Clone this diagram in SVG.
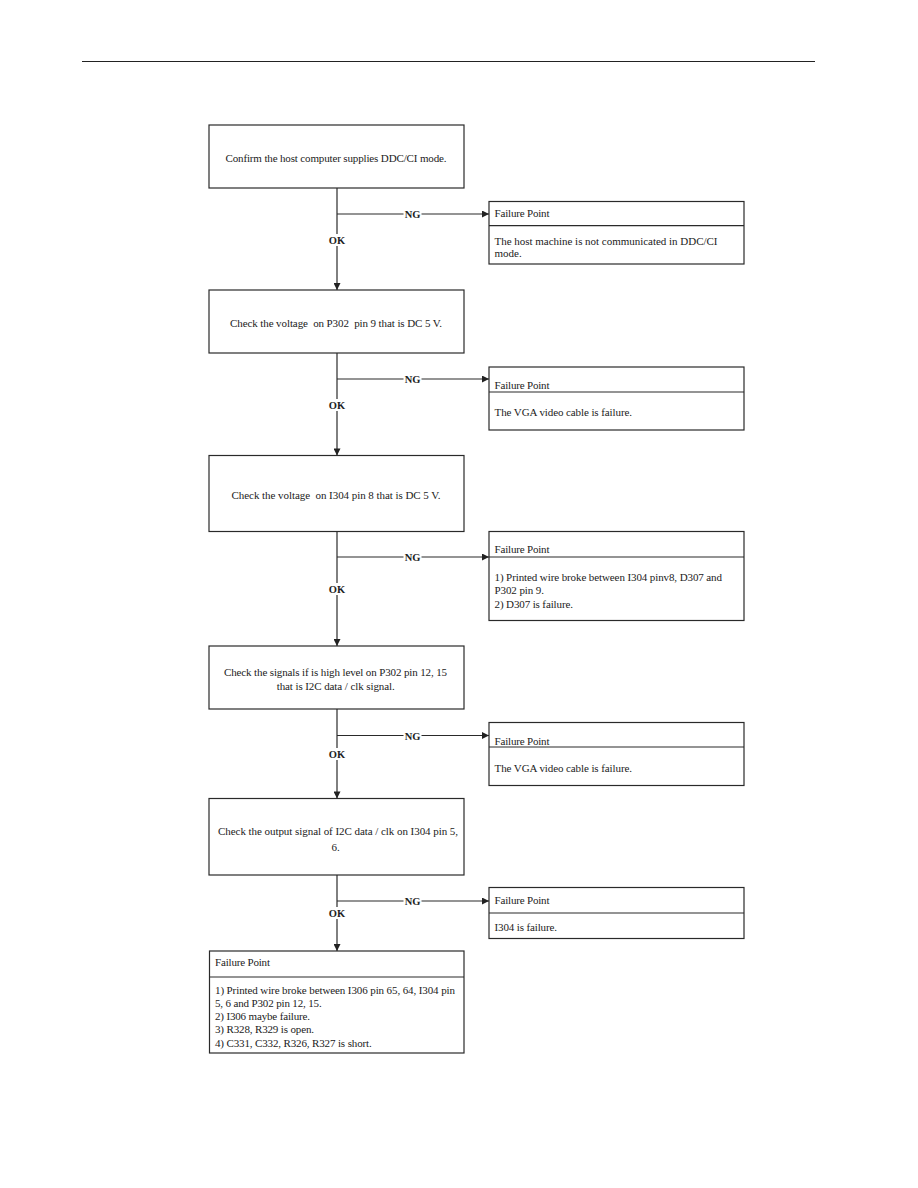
<svg xmlns="http://www.w3.org/2000/svg" width="918" height="1188" viewBox="0 0 918 1188">
<style>
.box{fill:#fff;stroke:#2a2a2a;stroke-width:1.2}
.div{stroke:#2a2a2a;stroke-width:1.2}
.t{font-family:"Liberation Serif","Times New Roman",serif;font-size:11px;fill:#222;white-space:pre}
.c{text-anchor:middle}
.lbl{font-family:"Liberation Serif","Times New Roman",serif;font-size:10.5px;font-weight:bold;fill:#222;text-anchor:middle}
.ln{stroke:#2a2a2a;stroke-width:1.2;fill:none}
.bg{fill:#fff}
</style>
<defs>
<marker id="ah" viewBox="0 0 10 10" refX="10" refY="5" markerWidth="8" markerHeight="7" markerUnits="userSpaceOnUse" orient="auto">
<path d="M0,0 L10,5 L0,10 z" fill="#222"/>
</marker>
</defs>
<rect width="918" height="1188" fill="#fff"/>
<line x1="82" y1="61.5" x2="815" y2="61.5" stroke="#222" stroke-width="1.2"/>

<g id="connectors">
<line class="ln" x1="337" y1="188" x2="337" y2="290" marker-end="url(#ah)"/>
<line class="ln" x1="337" y1="214" x2="489" y2="214" marker-end="url(#ah)"/>
<line class="ln" x1="337" y1="353" x2="337" y2="455.5" marker-end="url(#ah)"/>
<line class="ln" x1="337" y1="379" x2="489" y2="379" marker-end="url(#ah)"/>
<line class="ln" x1="337" y1="531.5" x2="337" y2="646" marker-end="url(#ah)"/>
<line class="ln" x1="337" y1="557" x2="489" y2="557" marker-end="url(#ah)"/>
<line class="ln" x1="337" y1="709" x2="337" y2="798.5" marker-end="url(#ah)"/>
<line class="ln" x1="337" y1="735.5" x2="489" y2="735.5" marker-end="url(#ah)"/>
<line class="ln" x1="337" y1="875" x2="337" y2="951" marker-end="url(#ah)"/>
<line class="ln" x1="337" y1="901" x2="489" y2="901" marker-end="url(#ah)"/>
<rect class="bg" x="403.5" y="208" width="18" height="12"/>
<text class="lbl" x="412.5" y="218">NG</text>
<rect class="bg" x="328" y="234" width="18" height="12"/>
<text class="lbl" x="337" y="244">OK</text>
<rect class="bg" x="403.5" y="373" width="18" height="12"/>
<text class="lbl" x="412.5" y="383">NG</text>
<rect class="bg" x="328" y="399" width="18" height="12"/>
<text class="lbl" x="337" y="409">OK</text>
<rect class="bg" x="403.5" y="551" width="18" height="12"/>
<text class="lbl" x="412.5" y="561">NG</text>
<rect class="bg" x="328" y="583" width="18" height="12"/>
<text class="lbl" x="337" y="593">OK</text>
<rect class="bg" x="403.5" y="729.5" width="18" height="12"/>
<text class="lbl" x="412.5" y="739.5">NG</text>
<rect class="bg" x="328" y="748" width="18" height="12"/>
<text class="lbl" x="337" y="758">OK</text>
<rect class="bg" x="403.5" y="895" width="18" height="12"/>
<text class="lbl" x="412.5" y="905">NG</text>
<rect class="bg" x="328" y="907" width="18" height="12"/>
<text class="lbl" x="337" y="917">OK</text>
</g>

<g id="step1">
<rect class="box" x="209" y="125" width="255" height="63"/>
<text class="t c" x="336" y="161.5" textLength="221">Confirm the host computer supplies DDC/CI mode.</text>
</g>
<g id="fail1">
<rect class="box" x="489" y="201.5" width="255" height="62.5"/>
<line class="div" x1="489" y1="225.7" x2="744" y2="225.7"/>
<text class="t" x="494.5" y="216.5" textLength="55">Failure Point</text>
<text class="t" x="494.5" y="244.5" textLength="223">The host machine is not communicated in DDC/CI</text>
<text class="t" x="494.5" y="256.5">mode.</text>
</g>

<g id="step2">
<rect class="box" x="209" y="290" width="255" height="63"/>
<text class="t c" x="336" y="327" textLength="212">Check the voltage  on P302  pin 9 that is DC 5 V.</text>
</g>
<g id="fail2">
<rect class="box" x="489" y="367" width="255" height="63"/>
<line class="div" x1="489" y1="392" x2="744" y2="392"/>
<text class="t" x="494.5" y="389" textLength="55">Failure Point</text>
<text class="t" x="494.5" y="416" textLength="137.5">The VGA video cable is failure.</text>
</g>

<g id="step3">
<rect class="box" x="209" y="455.5" width="255" height="76"/>
<text class="t c" x="336" y="499" textLength="209">Check the voltage  on I304 pin 8 that is DC 5 V.</text>
</g>
<g id="fail3">
<rect class="box" x="489" y="531.5" width="255" height="89"/>
<line class="div" x1="489" y1="557" x2="744" y2="557"/>
<text class="t" x="494.5" y="553" textLength="55">Failure Point</text>
<text class="t" x="494.5" y="581" textLength="227.5">1) Printed wire broke between I304 pinv8, D307 and</text>
<text class="t" x="494.5" y="594" textLength="49.5">P302 pin 9.</text>
<text class="t" x="494.5" y="608" textLength="78.5">2) D307 is failure.</text>
</g>

<g id="step4">
<rect class="box" x="209" y="646" width="255" height="63"/>
<text class="t c" x="335.5" y="675.5" textLength="223">Check the signals if is high level on P302 pin 12, 15</text>
<text class="t c" x="335.7" y="689.5" textLength="118">that is I2C data / clk signal.</text>
</g>
<g id="fail4">
<rect class="box" x="489" y="722.5" width="255" height="63"/>
<line class="div" x1="489" y1="747" x2="744" y2="747"/>
<text class="t" x="494.5" y="744.5" textLength="55">Failure Point</text>
<text class="t" x="494.5" y="771.5" textLength="137.5">The VGA video cable is failure.</text>
</g>

<g id="step5">
<rect class="box" x="209" y="798.5" width="255" height="76.5"/>
<text class="t c" x="338" y="835" textLength="240">Check the output signal of I2C data / clk on I304 pin 5,</text>
<text class="t c" x="335.7" y="850.5">6.</text>
</g>
<g id="fail5">
<rect class="box" x="489" y="887.5" width="255" height="51"/>
<line class="div" x1="489" y1="913" x2="744" y2="913"/>
<text class="t" x="494.5" y="904" textLength="55">Failure Point</text>
<text class="t" x="494.5" y="930.5" textLength="62.5">I304 is failure.</text>
</g>

<g id="fail6">
<rect class="box" x="209.5" y="951" width="254.5" height="102"/>
<line class="div" x1="209.5" y1="977" x2="464" y2="977"/>
<text class="t" x="215" y="966" textLength="55">Failure Point</text>
<text class="t" x="215" y="994" textLength="240">1) Printed wire broke between I306 pin 65, 64, I304 pin</text>
<text class="t" x="215" y="1006.5" textLength="106.7">5, 6 and P302 pin 12, 15.</text>
<text class="t" x="215" y="1020" textLength="95">2) I306 maybe failure.</text>
<text class="t" x="215" y="1033" textLength="99">3) R328, R329 is open.</text>
<text class="t" x="215" y="1047" textLength="156.7">4) C331, C332, R326, R327 is short.</text>
</g>
</svg>
